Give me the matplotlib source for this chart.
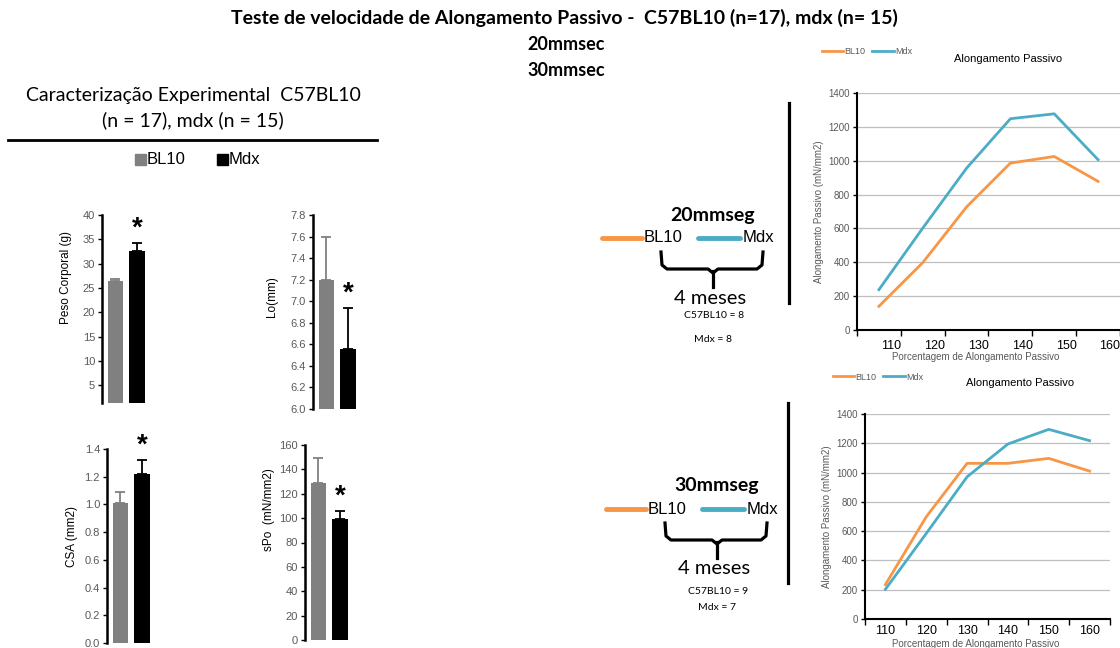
import numpy as np
import matplotlib
matplotlib.use('Agg')
import matplotlib.pyplot as plt

W, H = 1120, 648

# left panel: experimental characterisation (mean, upper error)
groups = ['BL10', 'Mdx']
peso = [26.5, 32.6]
peso_err = [0.3, 1.7]
lo = [7.2, 6.56]
lo_err = [0.4, 0.38]
csa = [1.01, 1.22]
csa_err = [0.08, 0.10]
spo = [129, 99]
spo_err = [20, 7]

# right panels: passive stretch curves
stretch = [110, 120, 130, 140, 150, 160]
bl10_20 = [140, 398, 727, 986, 1025, 878]
mdx_20 = [238, 602, 956, 1248, 1277, 1006]
bl10_30 = [235, 698, 1063, 1063, 1097, 1010]
mdx_30 = [203, 584, 971, 1195, 1295, 1218]

n_20 = ('C57BL10 = 8', 'Mdx = 8')
n_30 = ('C57BL10 = 9', 'Mdx = 7')

bar_colors = ['#808080', '#000000']
orange = '#F79646'
blue = '#4BACC6'
grey_txt = '#595959'
calibri = ['Lato', 'DejaVu Sans']
arial = 'Liberation Sans'

fig = plt.figure(figsize=(W / 100, H / 100), dpi=100)


def px_axes(l, t, r, b):
    return fig.add_axes([l / W, 1 - b / H, (r - l) / W, (b - t) / H])


# overlay in pixel coordinates for the slide text and shapes
ov = fig.add_axes([0, 0, 1, 1])
ov.set_xlim(0, W)
ov.set_ylim(H, 0)
ov.axis('off')

ov.text(564, 18, 'Teste de velocidade de Alongamento Passivo -  C57BL10 (n=17), mdx (n= 15)',
        ha='center', va='center', fontsize=14, fontweight='bold', family=calibri)
ov.text(566, 45, '20mmsec', ha='center', va='center', fontsize=13, fontweight='bold', family=calibri)
ov.text(566, 71, '30mmsec', ha='center', va='center', fontsize=13, fontweight='bold', family=calibri)

ov.text(193, 95, 'Caracterização Experimental  C57BL10', ha='center', va='center',
        fontsize=14, family=calibri)
ov.text(193, 120, '(n = 17), mdx (n = 15)', ha='center', va='center', fontsize=14, family=calibri)
ov.plot([8, 377], [140, 140], color='black', lw=2)

# left legend
for sx, c, name in [(135, bar_colors[0], groups[0]), (217, bar_colors[1], groups[1])]:
    ov.add_patch(plt.Rectangle((sx, 154), 11, 11, color=c))
    ov.text(sx + 12, 160, name, ha='left', va='center', fontsize=12, family=arial)


def bar_panel(left, top, bottom, vals, errs, ylim, ticks, fmt, ylabel, lab_dx, lab_fy):
    ax = px_axes(left, top, left + 47, bottom)
    x = np.arange(len(vals))
    for i in range(len(vals)):
        ax.bar(x[i], vals[i], width=0.72, color=bar_colors[i],
               yerr=[[0], [errs[i]]],
               error_kw=dict(ecolor=bar_colors[i], elinewidth=1.3, capsize=3.5, capthick=1.3))
    ax.annotate('*', (x[1], vals[1] + errs[1]), xytext=(0, 1), textcoords='offset points',
                ha='center', va='bottom', fontsize=20, fontweight='bold', family=arial,
                annotation_clip=False)
    ax.set_xlim(-0.62, 1.55)
    ax.set_ylim(*ylim)
    ax.set_yticks(ticks)
    ax.set_yticklabels([fmt.format(t) for t in ticks])
    ax.set_xticks([])
    for s in ['top', 'right', 'bottom']:
        ax.spines[s].set_visible(False)
    ax.spines['left'].set_linewidth(1.8)
    ax.tick_params(axis='y', length=3, width=1, labelsize=8, labelcolor=grey_txt, pad=2)
    for lab in ax.get_yticklabels():
        lab.set_family(arial)
    ax.patch.set_alpha(0)
    ax.set_ylabel(ylabel, fontsize=8.5, family=arial)
    ax.yaxis.set_label_coords(lab_dx / 47, lab_fy)
    return ax


bar_panel(102, 215, 403, peso, peso_err, (1.4, 40), np.arange(5, 41, 5), '{:.0f}',
          'Peso Corporal (g)', -30, 0.67)
bar_panel(313, 215, 409, lo, lo_err, (6.0, 7.8), np.round(np.arange(6.0, 7.81, 0.2), 1), '{:.1f}',
          'Lo(mm)', -35, 0.58)
bar_panel(107, 449, 643, csa, csa_err, (0.0, 1.4), np.round(np.arange(0.0, 1.41, 0.2), 1), '{:.1f}',
          'CSA (mm2)', -29, 0.55)
bar_panel(305, 445, 640, spo, spo_err, (0, 160), np.arange(0, 161, 20), '{:.0f}',
          'sPo  (mN/mm2)', -30, 0.67)


def line_panel(box, bl, md, label_shift, leg_xy, title_xy, xlab_dy, xpad):
    ax = px_axes(*box)
    x = np.arange(len(stretch))
    ax.plot(x, bl, color=orange, lw=2, label='BL10')
    ax.plot(x, md, color=blue, lw=2, label='Mdx')
    step = (box[2] - box[0]) / 6.0
    ax.set_xlim(-0.5, -0.5 + (box[2] - box[0]) / step)
    ax.set_ylim(0, 1400)
    ax.set_yticks(np.arange(0, 1401, 200))
    ax.yaxis.grid(True, color='#BFBFBF', lw=0.9)
    ax.set_axisbelow(True)
    ax.set_xticks(x + label_shift)
    ax.set_xticklabels([str(s) for s in stretch])
    ax.set_xticks(np.arange(-0.5, len(stretch) + 0.5, 1), minor=True)
    ax.tick_params(axis='x', which='major', length=0, labelsize=9, pad=xpad)
    ax.tick_params(axis='x', which='minor', length=4, width=1)
    ax.tick_params(axis='y', length=3, width=1, labelsize=7, labelcolor=grey_txt, pad=2)
    for lab in ax.get_xticklabels() + ax.get_yticklabels():
        lab.set_family(arial)
    for s in ['top', 'right']:
        ax.spines[s].set_visible(False)
    ax.spines['left'].set_linewidth(1.5)
    ax.spines['bottom'].set_linewidth(1.5)
    ax.set_ylabel('Alongamento Passivo (mN/mm2)', fontsize=7, color=grey_txt, family=arial)
    ax.yaxis.set_label_coords(-33 / (box[2] - box[0]), 0.5)
    ax.set_xlabel('Porcentagem de Alongamento Passivo', fontsize=7, color=grey_txt, family=arial)
    ax.xaxis.set_label_coords(0.45, -xlab_dy / (box[3] - box[1]))
    ax.patch.set_alpha(0)
    ov.text(title_xy[0], title_xy[1], 'Alongamento Passivo', ha='center', va='center',
            fontsize=8, family=arial)
    leg = ax.legend(loc='center left', bbox_to_anchor=(leg_xy[0] / W, 1 - leg_xy[1] / H),
                    bbox_transform=fig.transFigure, ncol=2, frameon=False, fontsize=6.5,
                    handlelength=2.4, handletextpad=0.1, columnspacing=0.8, borderpad=0)
    for t in leg.get_texts():
        t.set_color(grey_txt)
        t.set_family(arial)
    return ax


line_panel((857, 93, 1120, 330), bl10_20, mdx_20, 0.27, (817, 52), (1008, 59), 22, 7)
line_panel((865, 414, 1110, 619), bl10_30, mdx_30, 0.0, (828, 377), (1020, 383), 20, 4.5)


def speed_block(cx, y_head, y_leg, head, counts, y_n1, y_n2, vline):
    ov.text(cx, y_head, head, ha='center', va='center', fontsize=14, fontweight='bold', family=calibri)
    x0 = cx - 111
    ov.plot([x0, x0 + 40], [y_leg, y_leg], color=orange, lw=3.5, solid_capstyle='round')
    ov.text(x0 + 42, y_leg, 'BL10', ha='left', va='center', fontsize=12, family=arial)
    ov.plot([x0 + 96, x0 + 138], [y_leg, y_leg], color=blue, lw=3.5, solid_capstyle='round')
    ov.text(x0 + 141, y_leg, 'Mdx', ha='left', va='center', fontsize=12, family=arial)
    # brace
    l, r = cx - 52, cx + 50
    yt, yb = y_leg + 14, y_leg + 31
    ov.plot([l, l + 1, l + 6, cx - 5, cx, cx + 5, r - 6, r - 1, r],
            [yt, yb - 4, yb, yb, yb + 4, yb, yb, yb - 4, yt], color='black', lw=2.3)
    ov.plot([cx, cx], [yb + 2, yb + 18], color='black', lw=2.3)
    ov.text(cx - 3, yb + 29, '4 meses', ha='center', va='center', fontsize=14.5, family=calibri)
    ov.text(cx + 1, y_n1, counts[0], ha='center', va='center', fontsize=7.5, family=calibri)
    ov.text(cx, y_n2, counts[1], ha='center', va='center', fontsize=7.5, family=calibri)
    ov.plot([vline[0], vline[0]], [vline[1], vline[2]], color='black', lw=2.3)


speed_block(713, 216, 238, '20mmseg', n_20, 316, 339, (789, 103, 303))
speed_block(717, 486, 509, '30mmseg', n_30, 591, 608, (788, 403, 583))

fig.savefig('out.png', dpi=100)
